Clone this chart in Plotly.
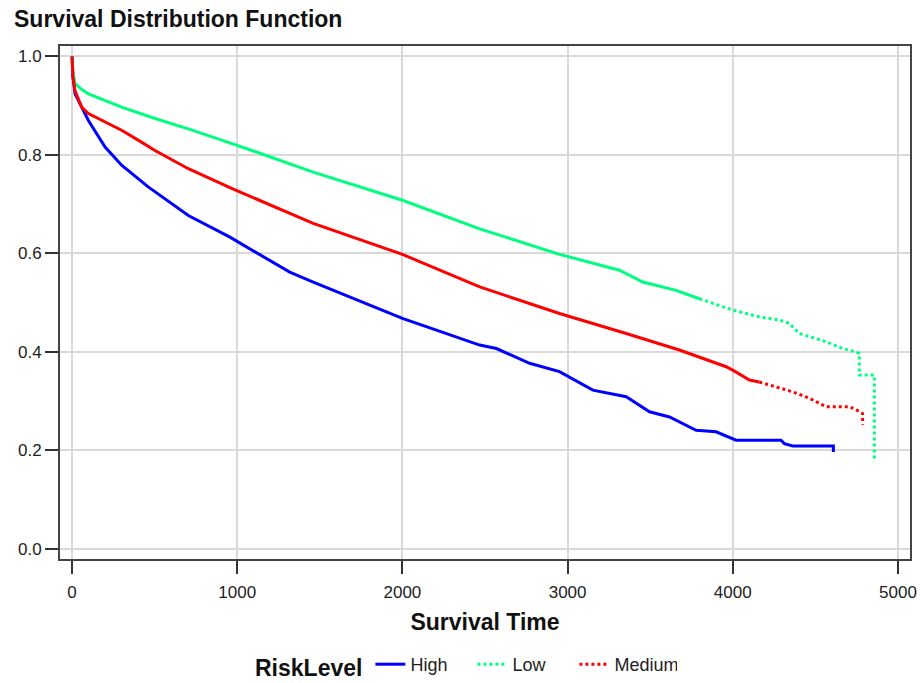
import plotly.graph_objects as go

# ---- data ----
high_t = [0, 5, 18, 58, 99, 200, 300, 461, 704, 956, 1318, 1460, 2000, 2468, 2569, 2770, 2951,
          3153, 3355, 3496, 3617, 3778, 3899, 4020, 4292, 4312, 4363, 4609, 4609]
high_s = [1.0, 0.96, 0.924, 0.897, 0.870, 0.816, 0.779, 0.735, 0.677, 0.633, 0.562, 0.542, 0.468,
          0.414, 0.407, 0.377, 0.360, 0.3225, 0.309, 0.2785, 0.268, 0.241, 0.238, 0.221, 0.221,
          0.214, 0.209, 0.209, 0.197]

low_t = [0, 5, 18, 50, 99, 200, 300, 502, 704, 905, 1107, 1460, 2000, 2468, 2951, 3314, 3455,
         3657, 3798, 4000, 4161, 4282, 4342, 4403, 4564, 4665, 4746, 4766, 4766, 4857, 4857]
low_s = [1.0, 0.97, 0.945, 0.935, 0.924, 0.91, 0.897, 0.874, 0.853, 0.830, 0.807, 0.765, 0.708,
         0.650, 0.598, 0.566, 0.542, 0.525, 0.508, 0.485, 0.471, 0.465, 0.458, 0.4375, 0.421,
         0.407, 0.400, 0.397, 0.353, 0.353, 0.177]

med_t = [0, 5, 18, 58, 99, 200, 300, 400, 502, 704, 966, 1460, 2000, 2468, 2951, 3355, 3677,
         3960, 4000, 4101, 4161, 4363, 4464, 4564, 4705, 4746, 4786, 4786]
med_s = [1.0, 0.96, 0.93, 0.897, 0.884, 0.867, 0.850, 0.830, 0.809, 0.772, 0.732, 0.661, 0.598,
         0.532, 0.478, 0.4375, 0.404, 0.370, 0.363, 0.343, 0.339, 0.319, 0.306, 0.289, 0.289,
         0.283, 0.275, 0.252]

x_ticks = [0, 1000, 2000, 3000, 4000, 5000]
y_ticks = [0.0, 0.2, 0.4, 0.6, 0.8, 1.0]

BLUE = "#0000FF"
GREEN = "#00FF80"
RED = "#FF0000"
FONT = "Liberation Sans, Arial, sans-serif"
DOT = "3px,3px"


def split(t, s, cut):
    i = max(k for k, v in enumerate(t) if v <= cut)
    return (t[:i + 1], s[:i + 1]), (t[i:], s[i:])


fig = go.Figure()

fig.add_trace(go.Scatter(x=high_t, y=high_s, mode="lines", name="High",
                         line=dict(color=BLUE, width=3), legendrank=1))

(lo_a, lo_b) = split(low_t, low_s, 3798)
fig.add_trace(go.Scatter(x=lo_a[0], y=lo_a[1], mode="lines", name="Low", showlegend=False,
                         line=dict(color=GREEN, width=3)))
fig.add_trace(go.Scatter(x=lo_b[0], y=lo_b[1], mode="lines", name="Low",
                         line=dict(color=GREEN, width=3, dash=DOT), legendrank=2))

(me_a, me_b) = split(med_t, med_s, 4161)
fig.add_trace(go.Scatter(x=me_a[0], y=me_a[1], mode="lines", name="Medium", showlegend=False,
                         line=dict(color=RED, width=3)))
fig.add_trace(go.Scatter(x=me_b[0], y=me_b[1], mode="lines", name="Medium",
                         line=dict(color=RED, width=3, dash=DOT), legendrank=3))

axis_common = dict(showline=True, linecolor="#444444", linewidth=2, mirror=True,
                   showgrid=True, gridcolor="#D9D9D9", gridwidth=1.5, zeroline=False,
                   ticks="outside", ticklen=13, tickwidth=2, tickcolor="#333333",
                   tickfont=dict(family=FONT, size=17, color="#222222"))

fig.update_layout(
    width=921, height=683,
    margin=dict(l=60, r=11, t=46, b=124, autoexpand=False),
    paper_bgcolor="white", plot_bgcolor="white",
    font=dict(family=FONT, color="#111111"),
    title=dict(text="Survival Distribution Function", x=14 / 921, xanchor="left",
               xref="container", yref="container", y=1 - 19 / 683, yanchor="middle",
               font=dict(family=FONT, size=23, weight="bold", color="#111111")),
    xaxis=dict(range=[-73, 5073], tickvals=x_ticks, ticktext=[str(v) for v in x_ticks],
               ticklabelstandoff=4,
               title=dict(text="Survival Time", standoff=12,
                          font=dict(family=FONT, size=23, weight="bold", color="#111111")),
               **axis_common),
    yaxis=dict(range=[-0.0203, 1.0211], tickvals=y_ticks, tickformat=".1f", **axis_common),
    legend=dict(orientation="h", xref="container", yref="container",
                x=253 / 921, xanchor="left", y=1 - 666 / 683, yanchor="middle",
                title=dict(text="RiskLevel", side="left",
                           font=dict(family=FONT, size=23, weight="bold", color="#111111")),
                font=dict(family=FONT, size=18, color="#222222"),
                entrywidth=57, entrywidthmode="pixels", traceorder="normal"),
    showlegend=True,
)

fig.write_html("out.html")
